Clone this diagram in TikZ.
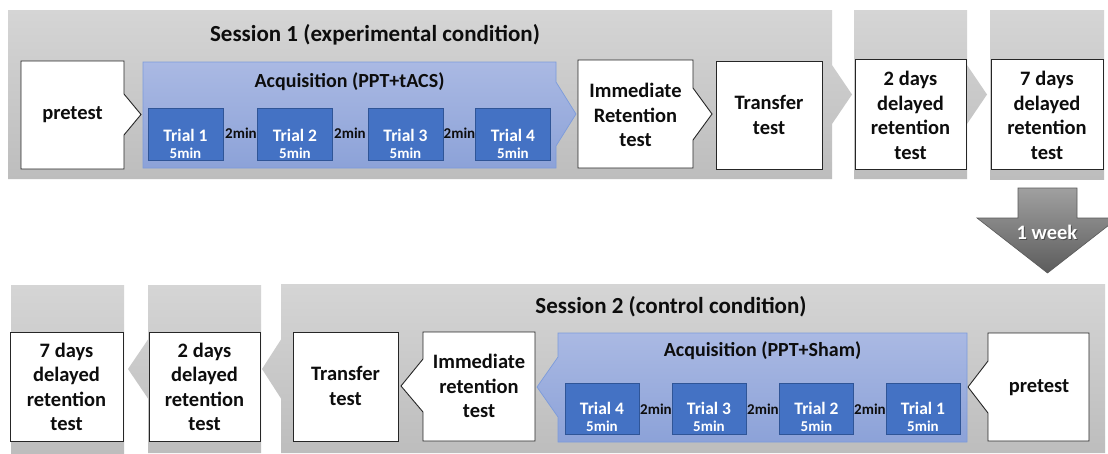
\documentclass[tikz,border=0pt]{standalone}
\usepackage{fontspec}
\setmainfont{Carlito}
\definecolor{gTop}{HTML}{D5D5D5}
\definecolor{gBot}{HTML}{BDBDBD}
\definecolor{bTop}{HTML}{AAB9E3}
\definecolor{bBot}{HTML}{8CA2D8}
\definecolor{bEdge}{HTML}{7C9BDB}
\definecolor{trialF}{HTML}{4472C4}
\definecolor{trialE}{HTML}{2F5597}
\definecolor{aTop}{HTML}{A0A0A0}
\definecolor{aBot}{HTML}{5C5C5C}
\definecolor{aEdge}{HTML}{5A5A5A}
\newcommand{\myBox}{\fontsize{20.5}{24.5}\selectfont\bfseries}
\newcommand{\myTitle}{\fontsize{23}{28}\selectfont\bfseries}
\newcommand{\myAcq}{\fontsize{20}{24}\selectfont\bfseries}
\newcommand{\myTrial}{\fontsize{17.5}{20}\selectfont\bfseries}
\newcommand{\mySmall}{\fontsize{15}{17}\selectfont\bfseries}
\begin{document}
\begin{tikzpicture}[x=1pt,y=-1pt,
  panel/.style={top color=gTop,bottom color=gBot,draw=none},
  wbox/.style={fill=white,draw=black!85,line width=0.9pt,line join=miter},
  acq/.style={top color=bTop,bottom color=bBot,draw=bEdge,line width=0.7pt},
  trialbox/.style={rectangle,fill=trialF,draw=trialE,line width=0.8pt,minimum width=75pt,minimum height=52pt,inner sep=0pt},
  lbl/.style={font=\myBox,align=center,text=black!95,inner sep=0pt},
  ttl/.style={font=\myTitle,text=black!95,inner sep=0pt},
  acqttl/.style={font=\myAcq,text=black!95,inner sep=0pt},
  trialtxt/.style={font=\myTrial,text=white,inner sep=0pt},
  fivemin/.style={font=\mySmall,text=white,inner sep=0pt},
  twomin/.style={font=\mySmall,text=black!95,inner sep=0pt},
  weekarrow/.style={top color=aTop,bottom color=aBot,draw=aEdge,line width=0.6pt}]
\useasboundingbox (0,0) rectangle (1108,453);
\fill[white] (0,0) rectangle (1108,453);

% ================= TOP ROW =================
\path[panel] (8,10) -- (832,10) -- (832,65) -- (852,94.5) -- (832,124) -- (832,179) -- (8,179) -- cycle;
\path[panel] (854,10) -- (967,10) -- (967,65) -- (987,94.5) -- (967,124) -- (967,179) -- (854,179) -- cycle;
\path[panel] (990,10) -- (1104,10) -- (1104,179) -- (990,179) -- cycle;

\node[ttl] (s1title) at (375,35) {Session 1 (experimental condition)};

% pretest (top)
\draw[wbox] (21,61) -- (124,61) -- (124,94) -- (141,114.5) -- (124,135) -- (124,169) -- (21,169) -- cycle;
\node[lbl] (pre1) at (72.5,115) {pretest};

% acquisition (top)
\draw[acq] (143,62) -- (556,62) -- (556,82) -- (576,114) -- (556,146) -- (556,168) -- (143,168) -- cycle;
\node[acqttl] (acq1) at (349.5,82) {Acquisition (PPT+tACS)};

\foreach \i/\cx in {1/185.5,2/295,3/405.5,4/513}{
  \node[trialbox] (ta\i) at (\cx,134) {};
  \node[trialtxt] (tat\i) at (\cx,135) {Trial \i};
  \node[fivemin] (taf\i) at (\cx,153) {5min};
}
\node[twomin] (ga1) at (241,133) {2min};
\node[twomin] (ga2) at (350,133) {2min};
\node[twomin] (ga3) at (459.5,133) {2min};

% immediate retention (top)
\draw[wbox] (578,60) -- (693,60) -- (693,88) -- (712,114) -- (693,140) -- (693,168) -- (578,168) -- cycle;
\node[lbl] (imm1) at (635.5,115) {Immediate\\Retention\\test};

% transfer (top)
\draw[wbox] (716,61) rectangle (822,169);
\node[lbl] (tr1) at (769,115) {Transfer\\test};

% 2 days / 7 days (top)
\draw[wbox] (855,59) rectangle (966,169);
\node[lbl] (d2a) at (910.5,115.5) {2 days\\delayed\\retention\\test};
\draw[wbox] (991,59) rectangle (1103,169);
\node[lbl] (d7a) at (1047,115.5) {7 days\\delayed\\retention\\test};

% ================= 1 WEEK ARROW =================
\path[weekarrow] (1018,188) -- (1077,188) -- (1077,218) -- (1118,218) -- (1047.5,273) -- (977,218) -- (1018,218) -- cycle;
\node[font=\myBox,text=black!70,inner sep=0pt] (weeks) at (1048,233) {1 week};
\node[font=\myBox,text=white,inner sep=0pt] (week) at (1047,232) {1 week};

% ================= BOTTOM ROW =================
\path[panel] (11,285) -- (124,285) -- (124,453) -- (11,453) -- cycle;
\path[panel] (261,285) -- (148,285) -- (148,339.5) -- (128,369) -- (148,398.5) -- (148,453) -- (261,453) -- cycle;
\path[panel] (1105,284) -- (281,284) -- (281,339.5) -- (262,369) -- (281,398.5) -- (281,453) -- (1105,453) -- cycle;

\node[ttl] (s2title) at (671,307) {Session 2 (control condition)};

% pretest (bottom)
\draw[wbox] (988,333) -- (1089,333) -- (1089,441) -- (988,441) -- (988,413) -- (968,387) -- (988,361) -- cycle;
\node[lbl] (pre2) at (1039,388) {pretest};

% acquisition (bottom)
\draw[acq] (558,333) -- (967,333) -- (967,442) -- (558,442) -- (558,417) -- (537,387) -- (558,357) -- cycle;
\node[acqttl] (acq2) at (762.5,351) {Acquisition (PPT+Sham)};

\foreach \i/\n/\cx in {1/4/602,2/3/709,3/2/816.5,4/1/923}{
  \node[trialbox,minimum width=74pt,minimum height=51pt] (tb\i) at (\cx,408.5) {};
  \node[trialtxt] (tbt\i) at (\cx,408.5) {Trial \n};
  \node[fivemin] (tbf\i) at (\cx,426) {5min};
}
\node[twomin] (gb1) at (656,409) {2min};
\node[twomin] (gb2) at (763,409) {2min};
\node[twomin] (gb3) at (870,409) {2min};

% immediate retention (bottom)
\draw[wbox] (423,332) -- (535,332) -- (535,441) -- (423,441) -- (423,412) -- (401,386) -- (423,359) -- cycle;
\node[lbl] (imm2) at (479,386) {Immediate\\retention\\test};

% transfer (bottom)
\draw[wbox] (293,332) rectangle (398,441);
\node[lbl] (tr2) at (345.5,386) {Transfer\\test};

% 2 days / 7 days (bottom)
\draw[wbox] (149,332) rectangle (260,441);
\node[lbl] (d2b) at (204.5,387) {2 days\\delayed\\retention\\test};
\draw[wbox] (10,332) rectangle (123,441);
\node[lbl] (d7b) at (66.5,387) {7 days\\delayed\\retention\\test};
\end{tikzpicture}
\end{document}
